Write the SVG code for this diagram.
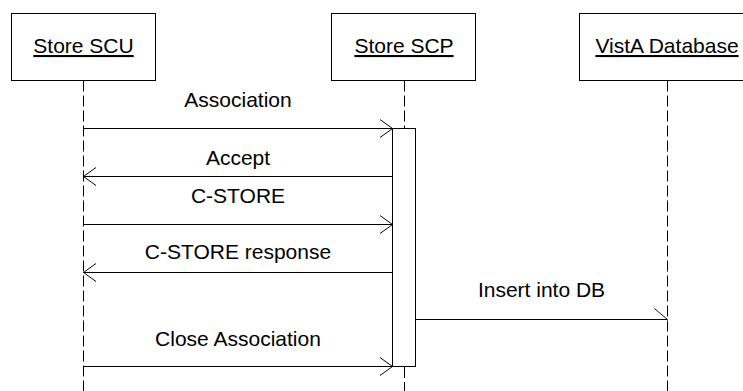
<svg xmlns="http://www.w3.org/2000/svg" width="743" height="391" viewBox="0 0 743 391">
<style>
  .box { fill: #fff; stroke: #000; stroke-width: 1; }
  .lbl { font-family: "Liberation Sans", Arial, sans-serif; font-size: 21px; fill: #000; text-anchor: middle; }
  .life { stroke: #000; stroke-width: 1; stroke-dasharray: 11 4; fill: none; }
  .msg { stroke: #000; stroke-width: 1; fill: none; }
</style>
<defs>
  <marker id="open" markerUnits="userSpaceOnUse" markerWidth="16" markerHeight="22" viewBox="-14 -11 16 22" refX="0" refY="0" orient="auto">
    <path d="M-12.5,-9 L0,0 L-12.5,9" fill="none" stroke="#000" stroke-width="1"/>
  </marker>
  <marker id="half" markerUnits="userSpaceOnUse" markerWidth="16" markerHeight="16" viewBox="-15 -13 17 15" refX="0" refY="0" orient="auto">
    <path d="M-14,-11.7 L0,0" fill="none" stroke="#000" stroke-width="1"/>
  </marker>
</defs>
<rect width="743" height="391" fill="#fff"/>
<g id="lifelines">
  <line class="life" x1="83.5" y1="80.5" x2="83.5" y2="391"/>
  <line class="life" x1="404.5" y1="80.5" x2="404.5" y2="128"/>
  <line class="life" x1="404.5" y1="367" x2="404.5" y2="391"/>
  <line class="life" x1="667.5" y1="80.5" x2="667.5" y2="391"/>
</g>
<g id="node-store-scu">
  <rect class="box" x="11.5" y="13.5" width="144" height="67"/>
  <text class="lbl" x="83.5" y="53" text-decoration="underline">Store SCU</text>
</g>
<g id="node-store-scp">
  <rect class="box" x="331.5" y="13.5" width="144" height="67"/>
  <text class="lbl" x="404" y="53" text-decoration="underline">Store SCP</text>
</g>
<g id="node-vista-db">
  <rect class="box" x="579.5" y="13.5" width="176" height="67"/>
  <text class="lbl" x="667" y="53" text-decoration="underline">VistA Database</text>
</g>
<g id="node-activation">
  <rect class="box" x="392.5" y="128.5" width="23" height="238"/>
</g>
<g id="connectors">
  <line class="msg" x1="83.5" y1="128.5" x2="392.5" y2="128.5" marker-end="url(#open)"/>
  <text class="lbl" x="238" y="107">Association</text>
  <line class="msg" x1="392.5" y1="176.5" x2="83.5" y2="176.5" marker-end="url(#open)"/>
  <text class="lbl" x="238" y="164.5">Accept</text>
  <line class="msg" x1="83.5" y1="224.5" x2="392.5" y2="224.5" marker-end="url(#open)"/>
  <text class="lbl" x="238" y="202.5">C-STORE</text>
  <line class="msg" x1="392.5" y1="272.5" x2="83.5" y2="272.5" marker-end="url(#open)"/>
  <text class="lbl" x="238" y="259">C-STORE response</text>
  <line class="msg" x1="415.5" y1="319.5" x2="667.5" y2="319.5" marker-end="url(#half)"/>
  <text class="lbl" x="541.5" y="297">Insert into DB</text>
  <line class="msg" x1="83.5" y1="366.5" x2="392.5" y2="366.5" marker-end="url(#open)"/>
  <text class="lbl" x="238" y="346">Close Association</text>
</g>
</svg>
